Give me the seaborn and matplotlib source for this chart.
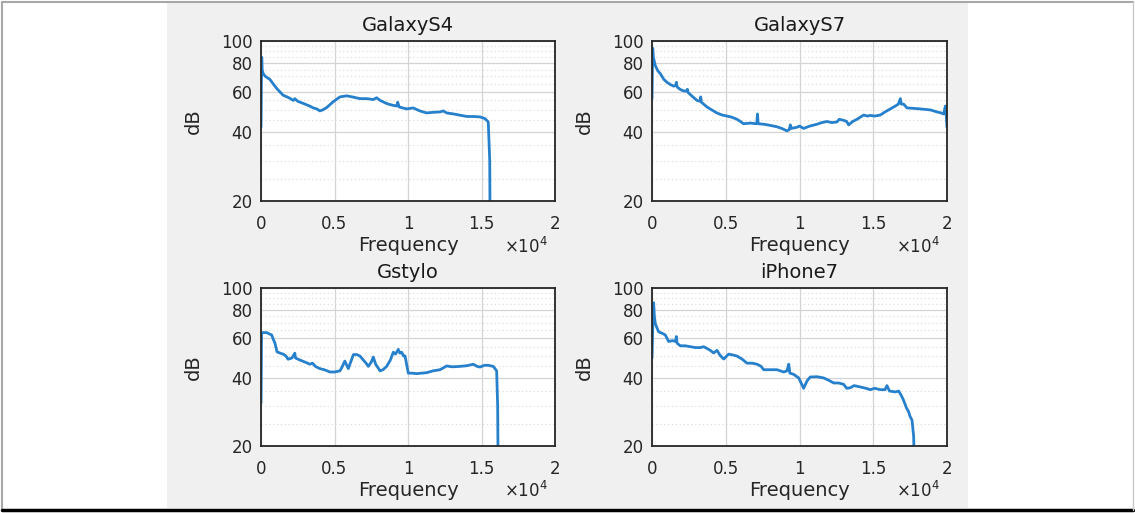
import numpy as np
import pandas as pd
import matplotlib
matplotlib.use("Agg")
import matplotlib.pyplot as plt
import matplotlib.ticker as mticker
from matplotlib.patches import Rectangle
from matplotlib.lines import Line2D
import seaborn as sns

# spectra: (frequency Hz, level dB)
galaxy_s4 = [(0, 42), (20, 60), (50, 85), (80, 75), (150, 72), (300, 70), (600, 68), (1070, 62),
             (1500, 58), (1900, 56.5), (2200, 55), (2300, 56), (2500, 54.5), (2900, 53.3), (3300, 52),
             (3560, 51), (3800, 50.5), (4000, 49.5), (4200, 50), (4470, 51.2), (4900, 54.2), (5370, 57),
             (5830, 57.6), (6200, 57), (6730, 56), (7200, 56), (7640, 55.5), (7870, 56.5), (8100, 55),
             (8550, 53.3), (8900, 52.5), (9230, 52), (9300, 54), (9400, 51.5), (9900, 50.5), (10360, 51),
             (10800, 49.5), (11270, 48.5), (11700, 48.8), (12180, 49), (12400, 49.5), (12630, 48.5),
             (13100, 48), (13540, 47.4), (14000, 46.8), (14440, 46.8), (14900, 46.6), (15240, 45.8),
             (15460, 44.3), (15560, 30), (15600, 10)]
galaxy_s7 = [(0, 56), (30, 80), (50, 93), (90, 85), (226, 78), (400, 74), (565, 72), (800, 68), (1017, 66),
             (1250, 64.5), (1470, 63.5), (1600, 64), (1650, 66), (1700, 63), (1920, 61.4), (2150, 60.5),
             (2370, 60.5), (2400, 61.5), (2450, 59.5), (2825, 56.6), (3050, 55), (3280, 54.5), (3300, 57),
             (3350, 54), (3730, 51.5), (4050, 50), (4400, 48.5), (4750, 47.5), (5085, 47), (5400, 46.5),
             (5760, 45.5), (6000, 44.5), (6200, 43.5), (6670, 43.8), (7100, 43.5), (7150, 48), (7200, 43.5),
             (7570, 43.3), (8000, 42.8), (8470, 42.2), (8800, 41.5), (9150, 40.5), (9300, 41), (9380, 43),
             (9450, 41.5), (9830, 42), (10000, 42.5), (10280, 41.5), (10700, 42.5), (11190, 43.3),
             (11500, 44), (11860, 44.5), (12200, 44), (12540, 44.3), (12700, 45.5), (13000, 45),
             (13200, 44.5), (13330, 43), (13600, 44.5), (13900, 45.5), (14350, 47.5), (14600, 47),
             (14800, 47.3), (15100, 47), (15480, 47.5), (15800, 49), (16160, 50.5), (16500, 52),
             (16700, 53), (16840, 56), (16900, 53), (17060, 53), (17290, 51), (17700, 50.8), (18190, 50.5),
             (18600, 50.2), (18870, 50), (19320, 49), (19600, 48.5), (19770, 48), (19890, 52), (19950, 47),
             (20000, 42)]
gstylo = [(0, 31), (40, 63.5), (200, 63.5), (385, 63.5), (600, 62.5), (725, 62), (850, 59), (950, 57),
          (1090, 52.2), (1300, 51.5), (1500, 51), (1700, 50), (1840, 48.4), (2100, 49), (2300, 51.5),
          (2350, 49), (2650, 48), (3000, 47), (3330, 46), (3500, 46.5), (3700, 45), (4000, 44), (4300, 43.5),
          (4700, 42.5), (5000, 42.5), (5370, 43), (5500, 44.5), (5700, 47.5), (5800, 46), (5940, 44),
          (6100, 47), (6280, 50.7), (6500, 50.8), (6730, 50), (6960, 48), (7150, 46.5), (7300, 45),
          (7500, 47), (7640, 49.5), (7800, 46), (8100, 43), (8300, 43.5), (8550, 45), (8800, 48), (9000, 52),
          (9150, 51), (9340, 53.5), (9450, 51.5), (9570, 52), (9700, 50), (9800, 50), (10020, 42),
          (10300, 42), (10590, 41.8), (10900, 42), (11270, 42.2), (11700, 43), (12180, 43.5), (12630, 45.2),
          (13000, 44.8), (13540, 45), (14000, 45.3), (14440, 46), (14700, 45), (14900, 44.7), (15200, 45.5),
          (15460, 45.5), (15800, 45), (16030, 43), (16100, 30), (16150, 10)]
iphone7 = [(0, 49), (60, 70), (110, 86), (160, 75), (225, 69.5), (450, 64), (700, 63), (900, 62), (1130, 58),
           (1400, 58.5), (1600, 58), (1650, 61), (1700, 57), (1920, 55.5), (2250, 55.5), (2600, 55),
           (2950, 54.5), (3280, 54.5), (3500, 55), (3730, 54), (3950, 53), (4180, 51.6), (4410, 53),
           (4600, 50.5), (4860, 48.5), (5200, 51), (5500, 50.5), (5760, 50), (6100, 48.5), (6440, 46.5),
           (6800, 46.5), (7120, 46), (7400, 45), (7570, 43.5), (8020, 43.5), (8470, 43.5), (8930, 42.5),
           (9150, 43), (9270, 46), (9350, 42), (9600, 41.5), (9950, 40), (10280, 36), (10510, 38.8),
           (10730, 40.4), (11200, 40.5), (11640, 40), (12000, 39), (12320, 38), (12650, 38), (12990, 37.5),
           (13200, 36), (13450, 36.2), (13700, 37), (14120, 36.5), (14500, 36), (14800, 35.5), (15100, 36),
           (15480, 35.5), (15800, 35.5), (15930, 37), (16100, 35), (16500, 34.7), (16720, 35), (16900, 33.5),
           (17060, 31.8), (17250, 29.5), (17400, 28.3), (17500, 27), (17630, 26), (17740, 22), (17850, 10)]

titles = ["GalaxyS4", "GalaxyS7", "Gstylo", "iPhone7"]
spectra = [galaxy_s4, galaxy_s7, gstylo, iphone7]
x_ticks = [0, 5000, 10000, 15000, 20000]
y_ticks = [20, 40, 60, 80, 100]
y_minor = [25, 30, 35, 45, 50, 55, 65, 70, 75, 85, 90, 95]

sns.set_style("white")
plt.rcParams['font.family'] = ['DejaVu Sans']

fig = plt.figure(figsize=(11.35, 5.13), dpi=100)
fig.patch.set_facecolor("white")
W, H = 1135, 513
# grey MATLAB figure panel and frame lines
panel = Rectangle((167 / W, 5 / H), (968 - 167) / W, (510 - 5) / H,
                  transform=fig.transFigure, facecolor="#f0f0f0", edgecolor="none", zorder=-5)
fig.add_artist(panel)
fig.add_artist(Line2D([2 / W, 1133 / W], [1 - 1.5 / H, 1 - 1.5 / H], color="#a8a8a8", lw=1.5))
fig.add_artist(Line2D([2 / W, 2 / W], [3 / H, 1 - 1.5 / H], color="#a8a8a8", lw=1.5))
fig.add_artist(Line2D([2 / W, 1133 / W], [3 / H, 3 / H], color="black", lw=2.5))
fig.add_artist(Line2D([1133 / W, 1133 / W], [3 / H, 1 - 1.5 / H], color="#c8c8c8", lw=1))

boxes = [(261, 41, 555, 201), (652, 41, 947, 201), (261, 288, 555, 446), (652, 288, 947, 446)]

for (l, t, r, b), title, spec in zip(boxes, titles, spectra):
    ax = fig.add_axes([l / W, 1 - b / H, (r - l) / W, (b - t) / H])
    df = pd.DataFrame(spec, columns=["Frequency", "dB"])
    sns.lineplot(data=df, x="Frequency", y="dB", ax=ax, color="#2680cc", lw=2.0, sort=False)
    ax.set_yscale("log")
    ax.set_xlim(0, 20000)
    ax.set_ylim(20, 100)
    ax.set_facecolor("white")
    ax.set_xticks(x_ticks)
    ax.xaxis.set_major_formatter(mticker.FuncFormatter(lambda v, p: f"{v / 1e4:g}"))
    ax.set_yticks(y_ticks)
    ax.yaxis.set_major_formatter(mticker.FixedFormatter([str(v) for v in y_ticks]))
    ax.set_yticks(y_minor, minor=True)
    ax.yaxis.set_minor_formatter(mticker.NullFormatter())
    ax.grid(True, which="major", color="#d4d4d4", lw=0.9)
    ax.grid(True, which="minor", axis="y", color="#d8d8d8", lw=0.8, ls=(0, (1, 2.5)))
    ax.tick_params(axis="both", which="major", direction="in", length=4, width=0.8,
                   labelsize=12, colors="#262626", pad=6)
    ax.tick_params(axis="x", which="major", pad=10)
    ax.tick_params(axis="y", which="minor", length=0)
    for s in ax.spines.values():
        s.set_color("#262626")
        s.set_linewidth(1.3)
    ax.set_title(title, fontsize=14, color="#1a1a1a", pad=7.5)
    ax.set_xlabel("Frequency", fontsize=14, color="#262626", labelpad=2)
    ax.set_ylabel("dB", fontsize=14, color="#262626", labelpad=13)
    ax.text(0.975, -0.285, r"$\times10^{4}$", transform=ax.transAxes, ha="right", va="center",
            fontsize=12, color="#262626")

fig.savefig("out.png", dpi=100)
